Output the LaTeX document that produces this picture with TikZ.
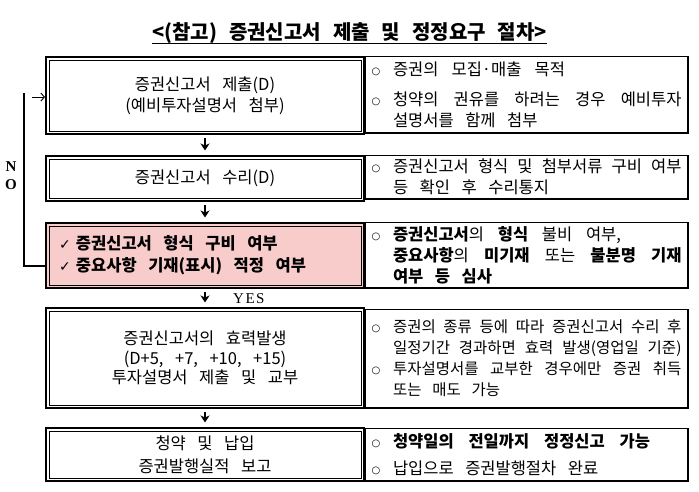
\documentclass[tikz,border=0pt]{standalone}
\usepackage{fontspec}
\setmainfont{Noto Sans CJK KR}
\newfontfamily\dejavu{DejaVu Sans}
\newfontfamily\serifL{Liberation Serif}
\usetikzlibrary{arrows.meta}
\definecolor{pinkfill}{RGB}{249,204,204}
\newcommand\ks{\spaceskip=0.7em plus 0.1em minus 0.45em\xspaceskip=\spaceskip\relax}
\newcommand\kfont[2]{\fontsize{#1}{#2}\selectfont\ks}
\newcommand\tfont{\bfseries\fontsize{20}{24}\selectfont}
\newcommand\bul{\makebox[21.5pt][l]{\raisebox{1pt}{\dejavu\fontsize{10}{10}\selectfont ○}}}
\newcommand\ind{\hspace*{21.5pt}}
\newcommand\jl[1]{\makebox[288.5pt][s]{#1}}
\newcommand\sline[2]{\makebox[#1][s]{#2}}
\newcommand\chk{\makebox[17pt][l]{\dejavu\fontsize{14}{14}\selectfont ✓}}
\begin{document}
\begin{tikzpicture}[x=1pt,y=-1pt,
  lbox/.style={draw, line width=2pt, minimum width=318pt, inner sep=0pt, align=flush center, font={\kfont{16.5}{21}}},
  rbox/.style={draw, line width=1pt, minimum width=322pt, inner xsep=6pt, inner ysep=0pt, text width=310pt, align=flush left, font={\kfont{16.5}{21}}},
  arr/.style={line width=1.6pt, -{Stealth[length=7pt,width=9pt,inset=2pt]}, shorten <=3pt, shorten >=4.5pt},
  lbl/.style={inner sep=0pt, font={\serifL\bfseries\fontsize{15}{15}\selectfont}}]
\useasboundingbox (0,0) rectangle (699,491);

% title
\node[inner sep=0pt, anchor=base, font=\tfont] (title) at (349.5,39) {\spaceskip=0.6em\relax <(참고) 증권신고서 제출 및 정정요구 절차>};
\draw[line width=1pt] ([yshift=-4pt]title.base west) -- ([yshift=-4pt]title.base east);

% right boxes
\node[rbox, minimum height=76pt] (r1) at (526.5,94.5) {\ks\bul\sline{172pt}{증권의 모집·매출 목적}\\[9pt]\bul\jl{청약의 권유를 하려는 경우 예비투자}\\\ind 설명서를 함께 첨부};
\node[rbox, minimum height=43pt] (r2) at (526.5,177) {\ks\bul\jl{증권신고서 형식 및 첨부서류 구비 여부}\\\ind 등 확인 후 수리통지};
\node[rbox, minimum height=65pt] (r3) at (526.5,255) {\ks\bul\sline{228pt}{{\bfseries 증권신고서}의 {\bfseries 형식} 불비 여부,}\\\ind\jl{{\bfseries 중요사항}의 {\bfseries 미기재} 또는 {\bfseries 불분명 기재}}\\\ind{\bfseries 여부 등 심사}};
\node[rbox, minimum height=98pt, font={\kfont{15.5}{21}}] (r4) at (526.5,358.5) {\ks\bul\jl{증권의 종류 등에 따라 증권신고서 수리 후}\\\ind\jl{일정기간 경과하면 효력 발생(영업일 기준)}\\\bul\jl{투자설명서를 교부한 경우에만 증권 취득}\\\ind 또는 매도 가능};
\node[rbox, minimum height=52pt] (r5) at (526.5,454.5) {\ks\bul\sline{257pt}{{\bfseries 청약일의 전일까지 정정신고 가능}}\\[6pt]\bul 납입으로 증권발행절차 완료};
\foreach \n in {r1,r2,r3,r4,r5}
  \draw[line width=1.6pt] (\n.north east) -- (\n.south east) -- (\n.south west);

% left boxes
\node[lbox, minimum height=77pt] (b1) at (205,95.5) {\ks 증권신고서 제출(D)\\\ks (예비투자설명서 첨부)};
\node[lbox, minimum height=45pt] (b2) at (205,178.5) {\ks 증권신고서 수리(D)};
\node[lbox, minimum height=65pt, fill=pinkfill, text width=292pt, align=flush left, font={\kfont{16.5}{22}\bfseries}] (b3) at (205,255.5) {\ks\chk 증권신고서 형식 구비 여부\\\chk 중요사항 기재(표시) 적정 여부};
\node[lbox, minimum height=100pt, font={\kfont{16.5}{19.5}}] (b4) at (205,358) {\ks 증권신고서의 효력발생\\\ks (D+5, +7, +10, +15)\\\ks 투자설명서 제출 및 교부};
\node[lbox, minimum height=53pt, font={\kfont{16.5}{23}}] (b5) at (205,454.5) {\ks 청약 및 납입\\\ks 증권발행실적 보고};
\foreach \n in {b1,b2,b3,b4,b5}
  \draw[line width=0.8pt] ([xshift=4pt,yshift=-4pt]\n.north west) rectangle ([xshift=-4pt,yshift=4pt]\n.south east);

% flow arrows
\draw[arr] (b1.south) -- (b2.north);
\draw[arr] (b2.south) -- (b3.north);
\draw[arr] (b3.south) -- (b4.north);
\draw[arr] (b4.south) -- (b5.north);
\node[lbl, anchor=west, font={\serifL\fontsize{15}{15}\selectfont}] (yes) at (233,299) {Y\kern1.5pt E\kern1.5pt S};

% NO feedback
\coordinate (nob) at (24,266);
\coordinate (notp) at (24,93);
\coordinate (noa) at (32,97);
\draw[line width=1.5pt] (b3.west |- nob) -- (nob) -- (notp);
\draw[line width=0.9pt, -{Straight Barb[length=3.5pt,width=8pt]}] (noa) -- (noa -| b1.west);
\node[lbl] (nn) at (11,167) {N};
\node[lbl] (no) at (11,185) {O};
\end{tikzpicture}
\end{document}
